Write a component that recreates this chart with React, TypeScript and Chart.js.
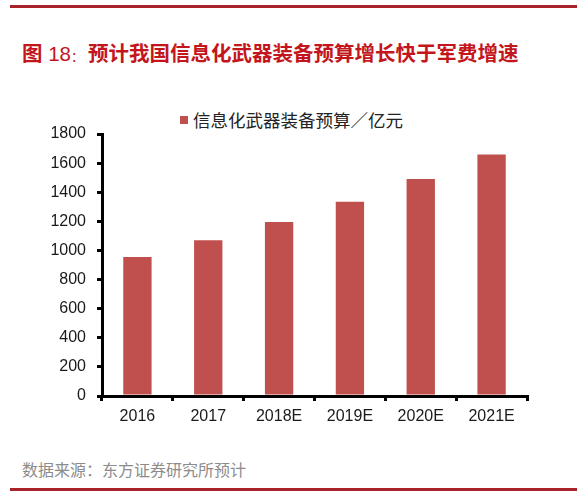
import { useEffect, useRef } from "react";
import { Chart, registerables } from "chart.js";

Chart.register(...registerables);

// data
const years = ["2016", "2017", "2018E", "2019E", "2020E", "2021E"];
const budget = [955, 1070, 1195, 1335, 1490, 1660];
const seriesName = "信息化武器装备预算／亿元";
const yMin = 0;
const yMax = 1800;
const yStep = 200;

const titleText = "预计我国信息化武器装备预算增长快于军费增速";
const sourceText = "数据来源：东方证券研究所预计";

const BAR_COLOR = "#c0504d";
const RED = "#c3161c";
const numFont = '"Liberation Sans", Arial, sans-serif';
const cjkFont = '"Noto Sans CJK SC", "Noto Sans", sans-serif';

const App = () => {
  const canvasRef = useRef<HTMLCanvasElement>(null);

  useEffect(() => {
    if (!canvasRef.current) return;
    const chart = new Chart(canvasRef.current, {
      type: "bar",
      data: {
        labels: years,
        datasets: [
          {
            label: seriesName,
            data: budget,
            backgroundColor: BAR_COLOR,
            barPercentage: 0.4,
            categoryPercentage: 1,
          },
        ],
      },
      options: {
        animation: false,
        responsive: true,
        maintainAspectRatio: false,
        layout: { padding: { left: 0, right: 61, top: 34, bottom: 0 } },
        plugins: {
          legend: { display: false }, // drawn in html above
          tooltip: { enabled: false },
        },
        scales: {
          x: {
            afterFit: (scale) => {
              scale.height = 44;
            },
            border: { color: "#000", width: 3 },
            grid: {
              offset: true,
              drawOnChartArea: false,
              drawTicks: true,
              tickLength: 5,
              color: "#000",
              lineWidth: 3,
            },
            ticks: {
              padding: 6,
              color: "#1a1a1a",
              font: { family: numFont, size: 16 },
            },
          },
          y: {
            min: yMin,
            max: yMax,
            afterFit: (scale) => {
              scale.width = 102;
            },
            border: { color: "#000", width: 3 },
            grid: {
              drawOnChartArea: false,
              drawTicks: true,
              tickLength: 5,
              color: "#000",
              lineWidth: 3,
            },
            ticks: {
              stepSize: yStep,
              padding: 11,
              color: "#1a1a1a",
              font: { family: numFont, size: 16 },
              callback: (v) => String(v),
            },
          },
        },
      },
    });
    return () => chart.destroy();
  }, []);

  return (
    <div
      style={{
        position: "absolute",
        left: 0,
        top: 0,
        width: 588,
        height: 495,
        background: "#fff",
        overflow: "hidden",
      }}
    >
      <div style={{ position: "absolute", left: 10, top: 5, width: 567, height: 3, background: "#a8242a" }} />
      <div
        style={{
          position: "absolute",
          left: 22,
          top: 39,
          height: 26,
          lineHeight: "26px",
          whiteSpace: "nowrap",
          color: RED,
          fontFamily: cjkFont,
          fontSize: 20.5,
        }}
      >
        <span style={{ fontWeight: 700 }}>图</span>
        <span style={{ fontFamily: '"Liberation Sans", Arial, sans-serif' }}> 18</span>
        <span style={{ fontSize: 13, marginRight: 4 }}>：</span>
        <span style={{ fontWeight: 700 }}>{titleText}</span>
      </div>

      {/* legend */}
      <div style={{ position: "absolute", left: 180, top: 116, width: 8, height: 8, background: BAR_COLOR }} />
      <div
        style={{
          position: "absolute",
          left: 193,
          top: 108,
          height: 24,
          lineHeight: "24px",
          whiteSpace: "nowrap",
          color: "#222",
          fontFamily: cjkFont,
          fontSize: 17.5,
        }}
      >
        {seriesName}
      </div>

      <div style={{ position: "absolute", left: 0, top: 100, width: 588, height: 340 }}>
        <canvas ref={canvasRef} />
      </div>

      <div
        style={{
          position: "absolute",
          left: 22,
          top: 457,
          height: 24,
          lineHeight: "24px",
          whiteSpace: "nowrap",
          color: "#8c8c8c",
          fontFamily: cjkFont,
          fontSize: 16,
        }}
      >
        {sourceText}
      </div>
      <div style={{ position: "absolute", left: 10, top: 488, width: 567, height: 3, background: "#a8242a" }} />
    </div>
  );
};

export default App;
